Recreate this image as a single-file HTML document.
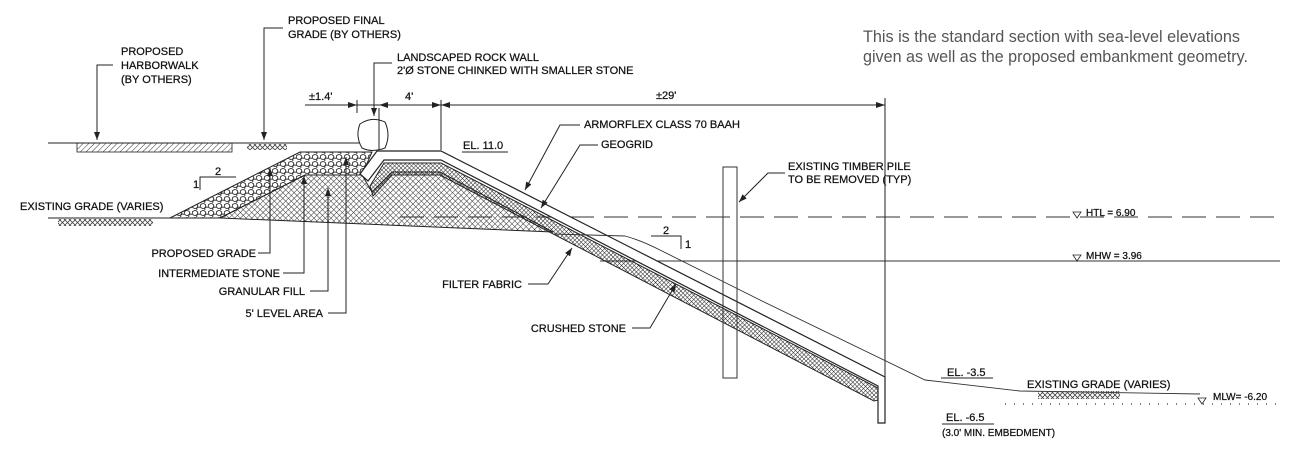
<!DOCTYPE html>
<html><head><meta charset="utf-8"><style>
html,body{margin:0;padding:0;background:#fff;}
svg{display:block;}
text{font-family:"Liberation Sans Narrow","Liberation Sans",Arial,sans-serif;font-size:11px;fill:#111;stroke:#111;stroke-width:0.25;}
</style></head><body>
<svg width="1291" height="462" viewBox="0 0 1291 462" xmlns="http://www.w3.org/2000/svg">
<defs>
<pattern id="diag" width="4" height="4" patternUnits="userSpaceOnUse" patternTransform="rotate(45)">
<line x1="0" y1="0" x2="0" y2="4" stroke="#333" stroke-width="1"/></pattern>
<pattern id="xh" width="4" height="4" patternUnits="userSpaceOnUse" patternTransform="rotate(45)">
<line x1="0" y1="0" x2="0" y2="4" stroke="#333" stroke-width="1"/><line x1="0" y1="0" x2="4" y2="0" stroke="#333" stroke-width="1"/></pattern>
<pattern id="xh2" width="3" height="3" patternUnits="userSpaceOnUse" patternTransform="rotate(45)">
<line x1="0" y1="0" x2="0" y2="3" stroke="#222" stroke-width="1"/><line x1="0" y1="0" x2="3" y2="0" stroke="#222" stroke-width="1"/></pattern>
<pattern id="stone" width="8" height="7" patternUnits="userSpaceOnUse">
<ellipse cx="3" cy="3" rx="2.8" ry="2.4" fill="none" stroke="#222" stroke-width="0.9"/>
<ellipse cx="7" cy="6" rx="2.3" ry="1.9" fill="none" stroke="#222" stroke-width="0.9"/></pattern>
<pattern id="gnd" width="5" height="5" patternUnits="userSpaceOnUse">
<path d="M0,5 L5,0 M0,0 L5,5" stroke="#444" stroke-width="0.8"/></pattern>
<marker id="ar" markerWidth="8" markerHeight="6" refX="8" refY="3" orient="auto" markerUnits="userSpaceOnUse">
<path d="M0,0 L8,3 L0,6 Z" fill="#222"/></marker>
</defs>

<text x="863" y="42" style="font-size:17px;fill:#555;stroke:none;font-family:'Liberation Sans Narrow','Liberation Sans',sans-serif" textLength="377" lengthAdjust="spacingAndGlyphs">This is the standard section with sea-level elevations</text>
<text x="863" y="62" style="font-size:17px;fill:#555;stroke:none;font-family:'Liberation Sans Narrow','Liberation Sans',sans-serif" textLength="385" lengthAdjust="spacingAndGlyphs">given as well as the proposed embankment geometry.</text>

<line x1="400" y1="217" x2="1282" y2="217" stroke="#333" stroke-width="1" stroke-dasharray="24,10"/>
<line x1="600" y1="261" x2="1280" y2="261" stroke="#333" stroke-width="1"/>
<line x1="1005" y1="404" x2="1282" y2="404" stroke="#333" stroke-width="1.2" stroke-dasharray="1,8"/>

<line x1="48" y1="143" x2="360" y2="143" stroke="#222" stroke-width="1"/>
<rect x="77" y="143" width="155" height="9" fill="url(#diag)" stroke="#222" stroke-width="0.8"/>
<rect x="247" y="144" width="40" height="6" fill="url(#gnd)"/>

<line x1="48" y1="218" x2="172" y2="218" stroke="#222" stroke-width="1"/>
<rect x="58" y="219" width="95" height="7" fill="url(#gnd)"/>

<path d="M170,218 L300,152 L372,152 L362,175 L305,175 L220,218 Z" fill="url(#stone)" stroke="#222" stroke-width="1"/>
<path d="M220,218 L305,175 L362,175 L372,192 L392,172 L440,172 L553,232 Q400,226 220,218 Z" fill="url(#xh)" stroke="#222" stroke-width="1"/>
<path d="M370,186 L384,163 L441,163 L878,388 L878,400 L874,401 L440,175 L392,175 L373,196 Z" fill="url(#xh2)" stroke="#222" stroke-width="1"/>
<path d="M360,174 L377,151 L441,151 L885,377 L885,423 L878,423 L878,386 L441,160 L384,160 L368,181 Z" fill="#fff" stroke="#222" stroke-width="1.2"/>

<path d="M553,234 L625,236 Q640,240 660,250 L760,300 L925,380 L1020,391 L1200,394" fill="none" stroke="#333" stroke-width="0.9"/>
<rect x="1038" y="391" width="82" height="8" fill="url(#gnd)"/>

<rect x="723" y="167" width="14" height="211" fill="none" stroke="#333" stroke-width="1"/>

<path d="M360,124 Q372,116 385,122 Q391,135 385,148 Q372,153 362,148 Q355,136 360,124 Z" fill="#fff" stroke="#222" stroke-width="1"/>
<line x1="379" y1="108" x2="379" y2="150" stroke="#222" stroke-width="1"/>

<line x1="305" y1="105" x2="885" y2="105" stroke="#222" stroke-width="1"/>
<line x1="357" y1="100" x2="357" y2="113" stroke="#222"/>
<line x1="441" y1="100" x2="441" y2="150" stroke="#222"/>
<line x1="885" y1="98" x2="885" y2="377" stroke="#222"/>
<path d="M348,102 L357,105 L348,108Z M379,105 L388,102 L388,108Z M432,102 L441,105 L432,108Z M441,105 L450,102 L450,108Z M876,102 L885,105 L876,108Z" fill="#222"/>
<text x="309" y="100">±1.4'</text>
<text x="405" y="100">4'</text>
<text x="656" y="99">±29'</text>

<g fill="none" stroke="#222" stroke-width="1">
<path d="M113,65 L97,65 L97,140" marker-end="url(#ar)"/>
<path d="M283,28 L264,28 L264,140" marker-end="url(#ar)"/>
<path d="M392,63 L374,63 L374,116" marker-end="url(#ar)"/>
<path d="M580,125 L560,125 L525,190" marker-end="url(#ar)"/>
<path d="M598,145 L580,145 L541,208" marker-end="url(#ar)"/>
<path d="M785,173 L768,173 L739,202" marker-end="url(#ar)"/>
<path d="M258,253 L270,253 L270,168" marker-end="url(#ar)"/>
<path d="M283,273 L304,273 L304,176" marker-end="url(#ar)"/>
<path d="M310,291 L328,291 L328,188" marker-end="url(#ar)"/>
<path d="M328,313 L346,313 L346,157" marker-end="url(#ar)"/>
<path d="M528,284 L548,284 L572,248" marker-end="url(#ar)"/>
<path d="M632,328 L650,328 L676,284" marker-end="url(#ar)"/>
</g>

<path d="M200,190 L200,177 L236,177" fill="none" stroke="#222"/>
<text x="215" y="175">2</text><text x="193" y="188">1</text>
<path d="M651,236 L681,236 L681,249" fill="none" stroke="#222"/>
<text x="663" y="234">2</text><text x="685" y="248">1</text>

<text x="121" y="55">PROPOSED</text>
<text x="121" y="69">HARBORWALK</text>
<text x="121" y="83">(BY OTHERS)</text>
<text x="288" y="24">PROPOSED FINAL</text>
<text x="288" y="38">GRADE (BY OTHERS)</text>
<text x="397" y="61">LANDSCAPED ROCK WALL</text>
<text x="397" y="74">2'Ø STONE CHINKED WITH SMALLER STONE</text>
<text x="463" y="149">EL. 11.0</text><line x1="462" y1="152" x2="508" y2="152" stroke="#222"/>
<text x="584" y="128">ARMORFLEX CLASS 70 BAAH</text>
<text x="601" y="148">GEOGRID</text>
<text x="788" y="170">EXISTING TIMBER PILE</text>
<text x="788" y="183">TO BE REMOVED (TYP)</text>
<text x="20" y="210">EXISTING GRADE (VARIES)</text>
<text x="256" y="257" text-anchor="end">PROPOSED GRADE</text>
<text x="280" y="277" text-anchor="end">INTERMEDIATE STONE</text>
<text x="305" y="295" text-anchor="end">GRANULAR FILL</text>
<text x="323" y="317" text-anchor="end">5' LEVEL AREA</text>
<text x="522" y="288" text-anchor="end">FILTER FABRIC</text>
<text x="626" y="332" text-anchor="end">CRUSHED STONE</text>
<text x="1086" y="216" style="font-size:10px">HTL = 6.90</text>
<text x="1086" y="259" style="font-size:10px">MHW = 3.96</text>
<path d="M1073,212 L1081,212 L1077,218Z M1073,255 L1081,255 L1077,261Z M1198,398 L1206,398 L1202,404Z" fill="none" stroke="#222" stroke-width="0.8"/>
<text x="947" y="376">EL. -3.5</text><line x1="941" y1="378" x2="993" y2="378" stroke="#222"/>
<text x="1027" y="388">EXISTING GRADE (VARIES)</text>
<text x="1213" y="400" style="font-size:10px">MLW= -6.20</text>
<text x="946" y="421">EL. -6.5</text><line x1="942" y1="424" x2="994" y2="424" stroke="#222"/>
<text x="942" y="436" style="font-size:10px">(3.0' MIN. EMBEDMENT)</text>
</svg>
</body></html>
